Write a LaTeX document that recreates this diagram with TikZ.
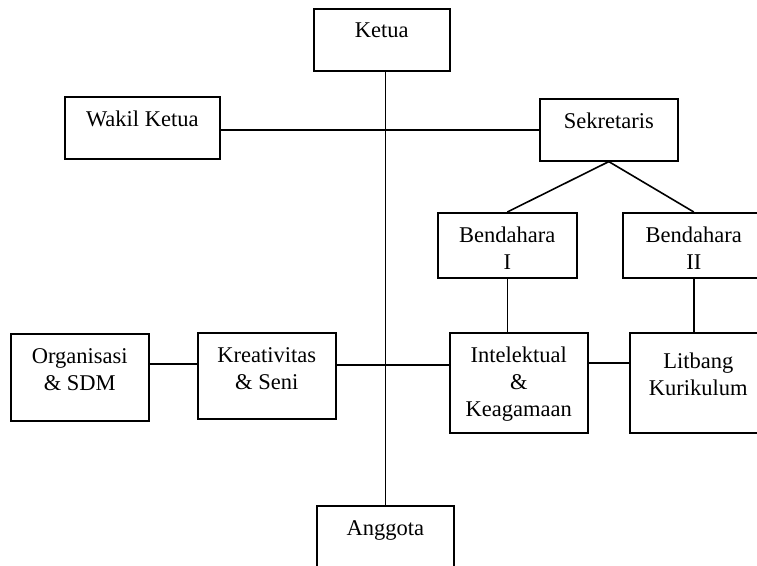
\documentclass[tikz,border=0pt]{standalone}
\usepackage{fontspec}
\setmainfont{Liberation Serif}
\begin{document}
\begin{tikzpicture}[x=1pt,y=1pt,yscale=-1,xscale=1,
  box/.style={draw, line width=1.6pt, inner sep=0pt, anchor=north west},
  lbl/.style={anchor=north, yshift=-15pt, inner sep=0pt, align=center, font=\fontsize{22.5}{27}\selectfont},
  link/.style={line width=1.6pt}]
\clip (0,0) rectangle (757,565);
\fill[white] (0,0) rectangle (757,565);

%Shape: Rectangle [ketua]
\node[box, minimum width=136, minimum height=62, label={[lbl]north:Ketua}] (ketua) at (313,8) {};
%Shape: Rectangle [wakil]
\node[box, minimum width=155, minimum height=62, label={[lbl]north:Wakil Ketua}] (wakil) at (64,96) {};
%Shape: Rectangle [sekr]
\node[box, minimum width=138, minimum height=62, label={[lbl]north:Sekretaris}] (sekr) at (539,98) {};
%Shape: Rectangle [bend1]
\node[box, minimum width=139, minimum height=65, label={[lbl]north:Bendahara\\I}] (bend1) at (437,212) {};
%Shape: Rectangle [bend2]
\node[box, minimum width=142, minimum height=65, label={[lbl]north:Bendahara\\II}] (bend2) at (622,212) {};
%Shape: Rectangle [intel]
\node[box, minimum width=138, minimum height=100, label={[lbl]north:Intelektual\\\&\\Keagamaan}] (intel) at (449,332) {};
%Shape: Rectangle [litbang]
\node[box, minimum width=137, minimum height=100, label={[lbl, yshift=-6pt]north:Litbang\\Kurikulum}] (litbang) at (629,332) {};
%Shape: Rectangle [org]
\node[box, minimum width=138, minimum height=87, label={[lbl]north:Organisasi\\\& SDM}] (org) at (10,333) {};
%Shape: Rectangle [kreat]
\node[box, minimum width=138, minimum height=86, label={[lbl]north:Kreativitas\\\& Seni}] (kreat) at (197,332) {};
%Shape: Rectangle [anggota]
\node[box, minimum width=137, minimum height=80, label={[lbl]north:Anggota}] (anggota) at (316,505) {};

% Connection
\draw[link] (ketua.south -| anggota.north) -- (anggota.north);
% Connection
\draw[link] (wakil.east |- sekr.west) -- (sekr.west);
% Connection
\draw[link] (sekr.south) -- (bend1.north);
\draw[link] (sekr.south) -- (bend2.north);
% Connection
\draw[link] (bend1.south) -- (bend1.south |- intel.north);
\draw[link] (bend2.south) -- (bend2.south |- litbang.north);
% Connection
\draw[link] ([yshift=-20pt]intel.east) -- ([yshift=-20pt]intel.east -| litbang.west);
\draw[link] ([yshift=-11pt]kreat.east) -- ([yshift=-11pt]kreat.east -| intel.west);
\draw[link] ([yshift=-13.5pt]org.east) -- ([yshift=-13.5pt]org.east -| kreat.west);

\end{tikzpicture}
\end{document}
